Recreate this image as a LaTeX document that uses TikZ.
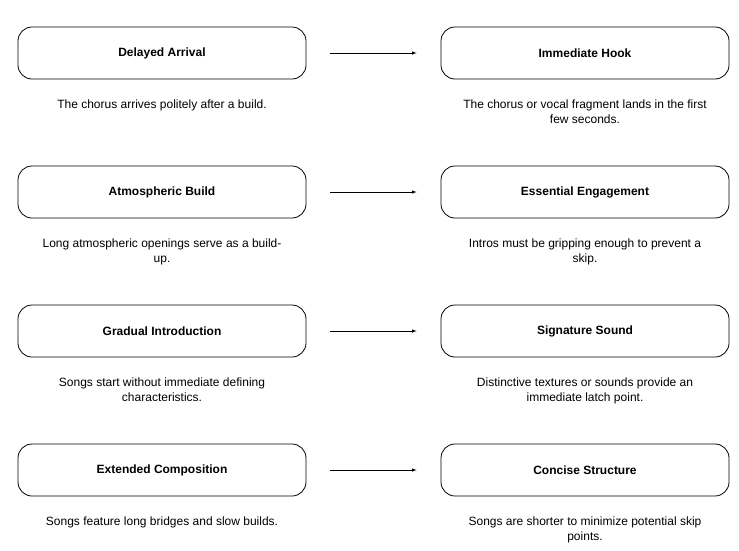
\documentclass[tikz,border=0pt]{standalone}
\usepackage{fontspec}
\setmainfont{Liberation Sans}
\usetikzlibrary{arrows, positioning}

\tikzset{
    stagebox/.style={draw, line width=0.8pt, rounded corners=14pt, minimum width=288pt, minimum height=52pt, font=\fontsize{12}{15}\selectfont\bfseries},
    stagenote/.style={below=20pt of #1, align=center, inner sep=0pt, font=\fontsize{12}{15}\selectfont},
    stagearrow/.style={-latex, line width=0.6pt, shorten <=24pt, shorten >=24pt}
}

\begin{document}
\begin{tikzpicture}[x=1pt, y=-1pt]
        \useasboundingbox (0, 0) rectangle (739, 550);

        \node[stagebox] (delayed) at (162, 53) {Delayed Arrival};
        \node[stagebox] (hook) at (585, 53) {Immediate Hook};
        \node[stagebox] (atmos) at (162, 192) {Atmospheric Build};
        \node[stagebox] (engage) at (585, 192) {Essential Engagement};
        \node[stagebox] (gradual) at (162, 331) {Gradual Introduction};
        \node[stagebox] (signature) at (585, 331) {Signature Sound};
        \node[stagebox] (extended) at (162, 470) {Extended Composition};
        \node[stagebox] (concise) at (585, 470) {Concise Structure};

        \node[stagenote=delayed] (delayednote) {The chorus arrives politely after a build.};
        \node[stagenote=hook] (hooknote) {The chorus or vocal fragment lands in the first\\few seconds.};
        \node[stagenote=atmos] (atmosnote) {Long atmospheric openings serve as a build-\\up.};
        \node[stagenote=engage] (engagenote) {Intros must be gripping enough to prevent a\\skip.};
        \node[stagenote=gradual] (gradualnote) {Songs start without immediate defining\\characteristics.};
        \node[stagenote=signature] (signaturenote) {Distinctive textures or sounds provide an\\immediate latch point.};
        \node[stagenote=extended] (extendednote) {Songs feature long bridges and slow builds.};
        \node[stagenote=concise] (concisenote) {Songs are shorter to minimize potential skip\\points.};

        \draw[stagearrow] (delayed) -- (hook);
        \draw[stagearrow] (atmos) -- (engage);
        \draw[stagearrow] (gradual) -- (signature);
        \draw[stagearrow] (extended) -- (concise);

      \end{tikzpicture}
\end{document}
